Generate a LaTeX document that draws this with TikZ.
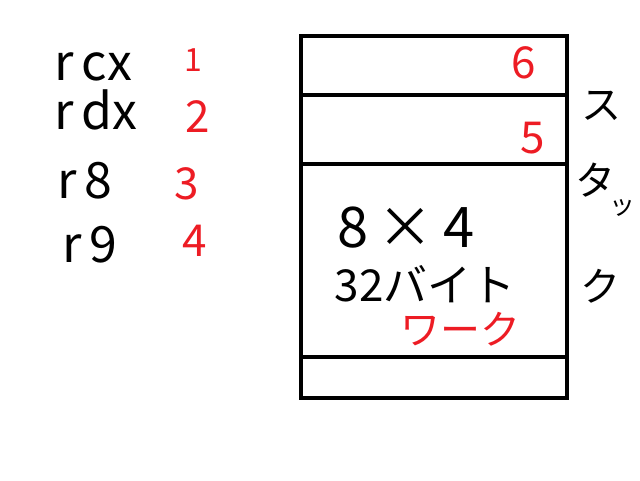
\documentclass[tikz,border=0pt]{standalone}
\usepackage{fontspec}
\setmainfont{Noto Sans CJK JP}
\usetikzlibrary{positioning}
\definecolor{memored}{RGB}{237,28,36}

\begin{document}
\begin{tikzpicture}[x=1pt, y=-1pt,
      reg/.style={font=\fontsize{50}{50}\selectfont, anchor=base west, inner sep=0pt},
      num/.style={font=\fontsize{44}{44}\selectfont, text=memored, inner sep=0pt},
      slot/.style={rectangle, draw, line width=3.5pt, minimum width=266pt, inner sep=0pt, outer sep=0pt},
      memo/.style={font=\fontsize{44}{44}\selectfont, inner sep=0pt},
      kana/.style={font=\fontsize{40}{40}\selectfont, inner sep=0pt}
    ]
      \useasboundingbox (0,0) rectangle (640,480);

      % Left: registers and argument numbers
      \node[reg] (rcx) at (54, 80) {r\,cx};
      \node[reg] (rdx) at (54, 129) {r\,dx};
      \node[reg] (r8) at (57, 198) {r\,8};
      \node[reg] (r9) at (62, 262) {r\,9};
      \node[num, font=\fontsize{32}{32}\selectfont] (n1) at (193, 60) {1};
      \node[num] (n2) at (198, 117) {2};
      \node[num] (n3) at (187, 184) {3};
      \node[num] (n4) at (195, 241) {4};

      % Right: stack frame
      \node[slot, minimum height=59pt, anchor=north west] (s6) at (301, 36) {};
      \node[slot, minimum height=69pt, below=0pt of s6] (s5) {};
      \node[slot, minimum height=193pt, below=0pt of s5] (work) {};
      \node[slot, minimum height=41pt, below=0pt of work] (base) {};

      \node[num] (n6) at (524, 63) {6};
      \node[num] (n5) at (533, 138) {5};
      \node[memo, font=\fontsize{56}{56}\selectfont] (size) at (406, 228) {8\,×\,4};
      \node[memo] (bytes) at (425, 284) {32バイト};
      \node[kana, text=memored] (wk) at (460, 329) {ワーク};

      % Far right: label written downwards
      \node[kana] (st1) at (601, 106) {ス};
      \node[kana] (st2) at (595, 180) {タ};
      \node[kana, font=\fontsize{26}{26}\selectfont] (st3) at (622, 208) {ッ};
      \node[kana] (st4) at (600, 286) {ク};
    \end{tikzpicture}
\end{document}
